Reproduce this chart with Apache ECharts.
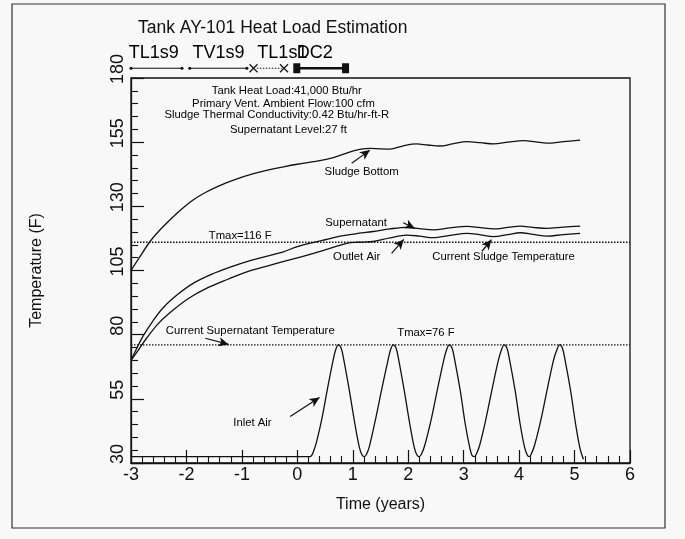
<!DOCTYPE html>
<html>
<head>
<meta charset="utf-8">
<title>Tank AY-101 Heat Load Estimation</title>
<script src="https://cdn.jsdelivr.net/npm/echarts@6/dist/echarts.min.js"></script>
<style>
  html, body { margin: 0; padding: 0; background: #f8f8f8; }
  #chart { width: 685px; height: 539px; }
</style>
</head>
<body>
<div id="chart"></div>
<script>
// ---- data: [time (years), temperature (F)] ----
var sludgeBottom = [[-3,105],[-2.85,110],[-2.66,116.2],[-2.5,120.3],[-2.3,124.7],[-2.1,128.7],[-1.88,132.5],
  [-1.65,135.5],[-1.39,138.2],[-1.1,140.6],[-0.79,142.7],[-0.5,144.3],[-0.25,145.4],[0,146.4],[0.29,147.4],
  [0.5,148.2],[0.65,149],[0.85,150.4],[1.01,151.6],[1.15,152.3],[1.31,152.6],[1.5,152.4],[1.67,152.3],
  [1.9,153.5],[2.15,154.3],[2.35,153.9],[2.57,153.5],[2.8,154.3],[3.06,155.2],[3.3,154.8],[3.54,154.3],
  [3.8,155],[4.08,155.6],[4.3,155.1],[4.5,154.6],[4.8,155.2],[5.1,155.8]];

var supernatant = [[-3,70],[-2.9,74.5],[-2.78,79.5],[-2.6,85.5],[-2.42,90.5],[-2.15,95.8],[-1.88,100],
  [-1.55,103.5],[-1.21,106.3],[-0.85,108.8],[-0.49,110.9],[-0.25,112.3],[0,114.3],[0.3,116],[0.55,117.2],
  [0.77,118.4],[1.05,119.3],[1.37,120.2],[1.67,121.2],[1.97,121.8],[2.2,121.3],[2.45,120.8],[2.75,121.6],
  [3.06,122.2],[3.3,121.7],[3.54,121.2],[3.8,121.8],[4.02,122.3],[4.25,121.8],[4.5,121.4],[4.8,121.9],[5.1,122.3]];

var outletAir = [[-3,70],[-2.9,73],[-2.72,78.6],[-2.5,84.5],[-2.24,89.6],[-1.95,94.3],[-1.63,98.1],
  [-1.25,101.6],[-0.91,104.5],[-0.5,107],[-0.31,108.2],[-0.07,109.5],[0.29,111.7],[0.6,113.7],[0.89,115.6],
  [1.1,116],[1.37,116.3],[1.67,117.7],[1.97,118.8],[2.2,118.4],[2.45,117.8],[2.75,118.7],[3.06,119.5],
  [3.3,118.9],[3.54,118.2],[3.8,119],[4.02,119.7],[4.25,119.1],[4.5,118.4],[4.8,119],[5.1,119.5]];

var inletAir = [[-3,32.5],[0.22,32.5],[0.26,33],[0.3,35],[0.35,38.5],[0.44,47],[0.54,58.5],[0.64,69.5],
  [0.69,74],[0.74,76],[0.79,74.8],[0.84,70],[0.94,58],[1.04,45],[1.12,36],[1.17,33],[1.21,32.5],
  [1.25,33.5],[1.3,36.5],[1.41,47],[1.52,58.5],[1.63,69.5],[1.68,74],[1.73,76],[1.78,74.8],[1.83,70],
  [1.93,58],[2.03,45],[2.11,36],[2.16,33],[2.2,32.5],
  [2.24,33.5],[2.3,37],[2.42,47.5],[2.53,59],[2.64,70],[2.69,74],[2.74,76],[2.79,74.8],[2.84,70],
  [2.94,58],[3.03,45],[3.11,36],[3.15,33],[3.19,32.5],
  [3.23,33.5],[3.29,37],[3.4,47],[3.51,58.5],[3.62,69.5],[3.68,74],[3.73,76],[3.78,74.8],[3.83,70],
  [3.93,58],[4.02,45],[4.1,36],[4.15,33],[4.18,32.5],
  [4.22,33.5],[4.28,37],[4.4,47.5],[4.51,59],[4.62,70],[4.68,74],[4.73,76],[4.78,74.8],[4.83,70],
  [4.93,58],[5.02,45],[5.1,35.5],[5.16,31.5]];

var tmaxHigh = 116;
var tmaxLow = 76;

// time spans shown above the frame
var tl1s9Span = [-3, -2.08];
var tv1s9Span = [-1.94, -0.91];
var tl1s1Span = [-0.73, -0.28];
var crossMarks = [-0.79, -0.24];
var dc2Span = [-0.01, 0.87];
var spanLabels = ['TL1s9', 'TV1s9', 'TL1s1', 'DC2'];
var spanLabelStarts = [-3.05, -1.9, -0.73, -0.02];

var FONT = '"Liberation Sans", Arial, Helvetica, sans-serif';
var INK = '#111';
var SPAN_Y = 183.8, SPAN_LABEL_Y = 189.6;

var chart = echarts.init(document.getElementById('chart'));

function curve(name, data) {
  return {
    name: name, type: 'line', data: data, showSymbol: false, smooth: 0.35,
    lineStyle: { color: INK, width: 1.3 }, silent: true
  };
}

// text notes placed in data coordinates
var notes = [
  { value: [-0.19, 175], name: 'Tank Heat Load:41,000 Btu/hr' },
  { value: [-0.25, 170.1], name: 'Primary Vent. Ambient Flow:100 cfm' },
  { value: [-0.37, 165.8], name: 'Sludge Thermal Conductivity:0.42 Btu/hr-ft-R' },
  { value: [-0.16, 159.7], name: 'Supernatant Level:27 ft' },
  { value: [1.16, 143.5], name: 'Sludge Bottom' },
  { value: [1.06, 123.4], name: 'Supernatant' },
  { value: [1.07, 110.4], name: 'Outlet Air' },
  { value: [3.72, 110.4], name: 'Current Sludge Temperature' },
  { value: [-1.03, 118.4], name: 'Tmax=116 F' },
  { value: [-0.85, 81.4], name: 'Current Supernatant Temperature' },
  { value: [2.32, 80.8], name: 'Tmax=76 F' },
  { value: [-0.81, 45.5], name: 'Inlet Air' }
];

function arrow(from, to) {
  return [{ coord: from }, { coord: to }];
}

var option = {
  backgroundColor: '#f8f8f8',
  animation: false,
  textStyle: { fontFamily: FONT, color: INK },
  title: {
    text: 'Tank AY-101 Heat Load Estimation',
    left: 133, top: 14,
    textStyle: { fontFamily: FONT, fontSize: 17.5, fontWeight: 'normal', color: INK }
  },
  graphic: [{
    type: 'rect', silent: true,
    shape: { x: 12, y: 4, width: 653, height: 524 },
    style: { fill: 'none', stroke: '#333', lineWidth: 1.2 }
  }],
  grid: {
    left: 131, right: 55, top: 78, bottom: 76,
    show: true, borderColor: INK, borderWidth: 1.3, backgroundColor: 'transparent'
  },
  xAxis: {
    type: 'value', min: -3, max: 6, interval: 1,
    name: 'Time (years)', nameLocation: 'middle', nameGap: 34,
    nameTextStyle: { fontFamily: FONT, fontSize: 16, color: INK },
    axisLine: { onZero: false, lineStyle: { color: INK, width: 1.3 } },
    axisTick: { inside: true, length: 13, lineStyle: { color: INK, width: 1.2 } },
    minorTick: { show: true, splitNumber: 5, length: 7, lineStyle: { color: INK, width: 1.1 } },
    axisLabel: { fontFamily: FONT, fontSize: 18, color: INK, margin: 3 },
    splitLine: { show: false }
  },
  yAxis: {
    type: 'value', min: 30, max: 180, interval: 25,
    name: 'Temperature (F)', nameLocation: 'middle', nameGap: 86, nameRotate: 90,
    nameTextStyle: { fontFamily: FONT, fontSize: 16, color: INK },
    axisLine: { onZero: false, lineStyle: { color: INK, width: 1.3 } },
    axisTick: { inside: true, length: 13, lineStyle: { color: INK, width: 1.2 } },
    minorTick: { show: true, splitNumber: 5, length: 7, lineStyle: { color: INK, width: 1.1 } },
    axisLabel: {
      fontFamily: FONT, fontSize: 18, color: INK, rotate: 90, margin: 4,
      padding: [0, 0, 0, 18]
    },
    splitLine: { show: false }
  },
  series: [
    curve('Sludge Bottom', sludgeBottom),
    curve('Supernatant', supernatant),
    curve('Outlet Air', outletAir),
    curve('Inlet Air', inletAir),
    {
      name: 'Tmax=116 F', type: 'line', silent: true, showSymbol: false,
      data: [[-3, tmaxHigh], [6, tmaxHigh]],
      lineStyle: { color: INK, width: 1.3, type: [1.5, 1.5] },
      markLine: {
        silent: true, symbol: ['none', 'arrow'], symbolSize: [7, 10], precision: 2,
        label: { show: false },
        lineStyle: { color: INK, width: 1.2, type: 'solid' },
        data: [
          arrow([0.98, 146.8], [1.31, 151.9]),
          arrow([1.91, 123.6], [2.12, 121.4]),
          arrow([1.7, 111.7], [1.92, 117.1]),
          arrow([3.33, 112.5], [3.5, 117]),
          arrow([-1.66, 78.6], [-1.24, 76.2]),
          arrow([-0.13, 48.1], [0.4, 55.5])
        ]
      }
    },
    {
      name: 'Tmax=76 F', type: 'line', silent: true, showSymbol: false,
      data: [[-3, tmaxLow], [6, tmaxLow]],
      lineStyle: { color: INK, width: 1.3, type: [1.5, 1.5] }
    },
    {
      name: 'notes', type: 'scatter', silent: true, data: notes,
      symbolSize: 1, itemStyle: { color: 'rgba(0,0,0,0)', opacity: 1 },
      label: {
        show: true, position: 'inside', formatter: '{b}', opacity: 1,
        fontFamily: FONT, fontSize: 11.3, color: '#000'
      }
    },
    // spans drawn above the frame
    {
      name: 'TL1s9', type: 'line', clip: false, silent: true,
      data: [[tl1s9Span[0], SPAN_Y], [tl1s9Span[1], SPAN_Y]],
      symbol: 'circle', symbolSize: 3, itemStyle: { color: INK },
      lineStyle: { color: INK, width: 1 }
    },
    {
      name: 'TV1s9', type: 'line', clip: false, silent: true,
      data: [[tv1s9Span[0], SPAN_Y], [tv1s9Span[1], SPAN_Y]],
      symbol: 'circle', symbolSize: 3, itemStyle: { color: INK },
      lineStyle: { color: INK, width: 1 }
    },
    {
      name: 'TL1s1', type: 'line', clip: false, silent: true, showSymbol: false,
      data: [[tl1s1Span[0], SPAN_Y], [tl1s1Span[1], SPAN_Y]],
      lineStyle: { color: INK, width: 1, type: [1.5, 1.5] }
    },
    {
      name: 'crosses', type: 'scatter', clip: false, silent: true,
      data: crossMarks.map(function (x) { return [x, SPAN_Y]; }),
      symbol: 'path://M0,0L10,10M10,0L0,10', symbolSize: 8,
      itemStyle: { color: 'none', borderColor: INK, borderWidth: 1.2, opacity: 1 }
    },
    {
      name: 'DC2', type: 'line', clip: false, silent: true,
      data: [[dc2Span[0], SPAN_Y], [dc2Span[1], SPAN_Y]],
      symbol: 'rect', symbolSize: [7, 10], itemStyle: { color: INK },
      lineStyle: { color: INK, width: 2.6 }
    },
    {
      name: 'span labels', type: 'scatter', clip: false, silent: true,
      data: spanLabels.map(function (t, i) { return { value: [spanLabelStarts[i], SPAN_LABEL_Y], name: t }; }),
      symbolSize: 1, itemStyle: { color: 'rgba(0,0,0,0)', opacity: 1 },
      label: {
        show: true, position: 'right', distance: 0, formatter: '{b}', opacity: 1,
        fontFamily: FONT, fontSize: 18, color: '#000'
      }
    }
  ]
};

chart.setOption(option);
</script>
</body>
</html>
